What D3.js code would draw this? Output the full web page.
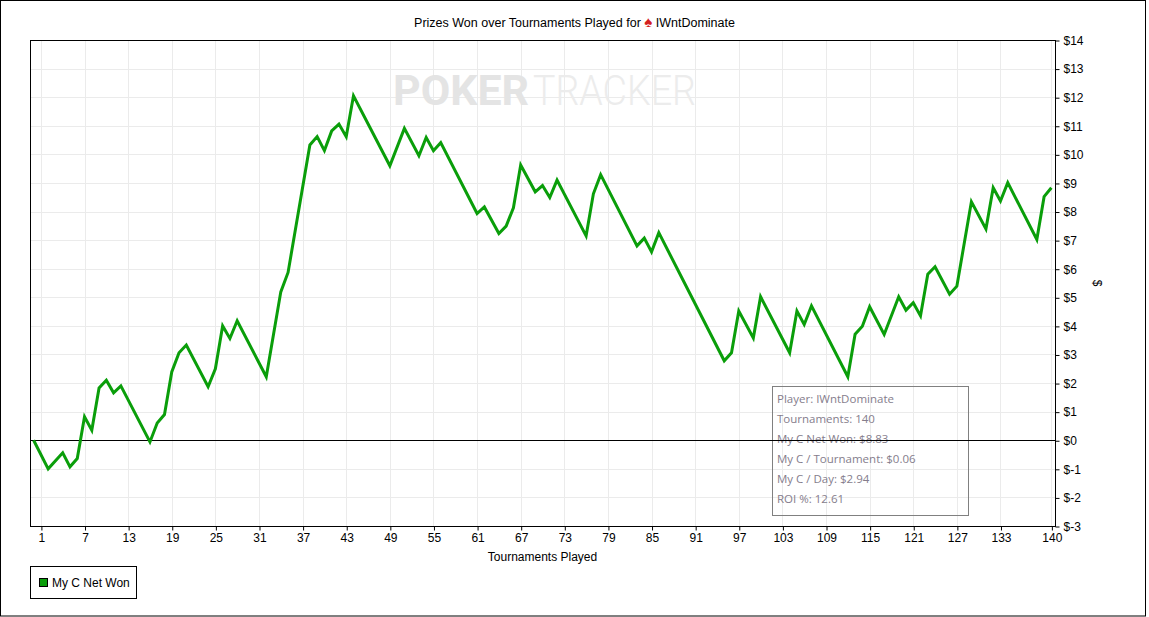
<!DOCTYPE html>
<html><head><meta charset="utf-8">
<script src="https://cdn.jsdelivr.net/npm/d3@7"></script>
<style>
html,body{margin:0;padding:0;background:#fff;}
svg{display:block;font-family:"Liberation Sans",Arial,sans-serif;}
</style></head>
<body>
<svg id="chart" width="1149" height="617"></svg>
<script>
// Tournament numbers at the vertices of the cumulative line, and net won ($) there
const tournaments = [0,2,4,5,6,7,8,9,10,11,12,16,17,18,19,20,21,24,25,26,27,28,32,34,35,38,39,40,41,42,43,44,49,51,53,54,55,56,61,62,64,65,66,67,69,70,71,72,76,77,78,83,84,85,86,95,96,97,99,100,104,105,106,107,112,113,114,115,117,119,120,121,122,123,124,126,127,129,131,132,133,134,138,139,140];
const netWon = [0,-1.0,-0.44,-0.93,-0.64,0.82,0.35,1.83,2.1,1.66,1.9,-0.06,0.6,0.9,2.39,3.06,3.33,1.87,2.5,4.0,3.56,4.18,2.22,5.19,5.87,10.33,10.62,10.13,10.82,11.06,10.62,12.05,9.6,10.91,9.95,10.59,10.13,10.41,7.93,8.16,7.23,7.49,8.13,9.63,8.69,8.91,8.49,9.1,7.15,8.62,9.29,6.8,7.07,6.59,7.26,2.78,3.06,4.52,3.58,5.02,3.06,4.52,4.05,4.7,2.22,3.71,3.99,4.67,3.7,5.02,4.55,4.81,4.35,5.81,6.07,5.11,5.39,8.34,7.39,8.83,8.37,9.01,7.02,8.52,8.83];
const xTickValues = [1,7,13,19,25,31,37,43,49,55,61,67,73,79,85,91,97,103,109,115,121,127,133,140];
const yTickValues = [-3,-2,-1,0,1,2,3,4,5,6,7,8,9,10,11,12,13,14];
const infoLines = ["Player: IWntDominate","Tournaments: 140","My C Net Won: $8.83","My C / Tournament: $0.06","My C / Day: $2.94","ROI %: 12.61"];
const seriesName = "My C Net Won";
const lineColor = "#0a9e0a";

const svg = d3.select("#chart");
const L = 30, R = 1055, T = 40, B = 526;
const x = d3.scaleLinear().domain([-0.5, 140.5]).range([L, R]);
const y = d3.scaleLinear().domain([-3, 14]).range([B, T]);
const data = tournaments.map((t, i) => ({t, v: netWon[i]}));

// outer frame
svg.append("rect").attr("x",0.5).attr("y",0.5).attr("width",1145).attr("height",615.5)
  .attr("fill","none").attr("stroke","#000");

// title
const title = svg.append("text").attr("x",574.5).attr("y",27).attr("text-anchor","middle")
  .attr("font-size",12.5).attr("fill","#000");
title.append("tspan").text("Prizes Won over Tournaments Played for ");
title.append("tspan").attr("fill","#d42020").attr("font-size",15).text("♠");
title.append("tspan").text(" IWntDominate");

// grid
const g = svg.append("g");
g.selectAll("line.hg").data(yTickValues.filter(d => d > -3 && d < 14 && d !== 0)).join("line")
  .attr("x1",L).attr("x2",R).attr("y1",d => Math.round(y(d))+0.5).attr("y2",d => Math.round(y(d))+0.5)
  .attr("stroke","#ebebeb");
g.selectAll("line.vg").data(xTickValues).join("line")
  .attr("x1",d => Math.round(x(d))+0.5).attr("x2",d => Math.round(x(d))+0.5).attr("y1",T).attr("y2",B)
  .attr("stroke","#ebebeb");

// watermark
const wm = svg.append("g").attr("font-family","Roboto, 'Open Sans', sans-serif");
wm.append("text").attr("x",393).attr("y",105).attr("font-size",42).attr("font-weight","bold")
  .attr("fill","#e4e4e4").attr("textLength",136).attr("lengthAdjust","spacingAndGlyphs").text("POKER");
wm.append("text").attr("x",533).attr("y",105).attr("font-size",42).attr("font-weight","300")
  .attr("fill","#ececec").attr("textLength",163).attr("lengthAdjust","spacingAndGlyphs").text("TRACKER");

// info box
const info = svg.append("g");
info.append("rect").attr("x",772.5).attr("y",386.5).attr("width",196).attr("height",129)
  .attr("fill","none").attr("stroke","#808080");
info.selectAll("text").data(infoLines).join("text")
  .attr("x",777).attr("y",(d,i) => 403 + i*20)
  .attr("font-family","'Open Sans','Noto Sans',sans-serif").attr("font-size",11.5).attr("fill","#857d8c")
  .text(d => d);

// zero line
svg.append("line").attr("x1",L).attr("x2",R).attr("y1",Math.round(y(0))+0.5).attr("y2",Math.round(y(0))+0.5)
  .attr("stroke","#000");

// data line
svg.append("path").datum(data)
  .attr("d", d3.line().x(d => x(d.t)).y(d => y(d.v)))
  .attr("fill","none").attr("stroke",lineColor).attr("stroke-width",3).attr("stroke-linejoin","miter");

// plot border
svg.append("rect").attr("x",L+0.5).attr("y",T+0.5).attr("width",R-L).attr("height",B-T)
  .attr("fill","none").attr("stroke","#000");

// axes
const xAxis = svg.append("g").attr("transform",`translate(0.5,${B+0.5})`)
  .call(d3.axisBottom(x).tickValues(xTickValues).tickSize(4).tickSizeOuter(0).tickPadding(3));
xAxis.select(".domain").remove();
xAxis.selectAll("text").attr("font-size",12).attr("font-family","'Liberation Sans',Arial,sans-serif").attr("fill","#000");
xAxis.selectAll("line").attr("stroke","#000");

const yAxis = svg.append("g").attr("transform",`translate(${R+0.5},0.5)`)
  .call(d3.axisRight(y).tickValues(yTickValues).tickFormat(d => "$" + d).tickSize(4).tickSizeOuter(0).tickPadding(4));
yAxis.select(".domain").remove();
yAxis.selectAll("text").attr("font-size",12).attr("font-family","'Liberation Sans',Arial,sans-serif").attr("fill","#000");
yAxis.selectAll("line").attr("stroke","#000");

svg.append("text").attr("x",542.5).attr("y",561).attr("text-anchor","middle").attr("font-size",12).text("Tournaments Played");
svg.append("text").attr("transform","translate(1093,283) rotate(90)").attr("text-anchor","middle").attr("font-size",12).text("$");

// legend
const lg = svg.append("g");
lg.append("rect").attr("x",30.5).attr("y",566.5).attr("width",106).attr("height",32).attr("fill","none").attr("stroke","#000");
lg.append("rect").attr("x",39.5).attr("y",578.5).attr("width",8).attr("height",8).attr("fill",lineColor).attr("stroke","#000");
lg.append("text").attr("x",52).attr("y",587).attr("font-size",12).text(seriesName);
</script>
</body></html>
